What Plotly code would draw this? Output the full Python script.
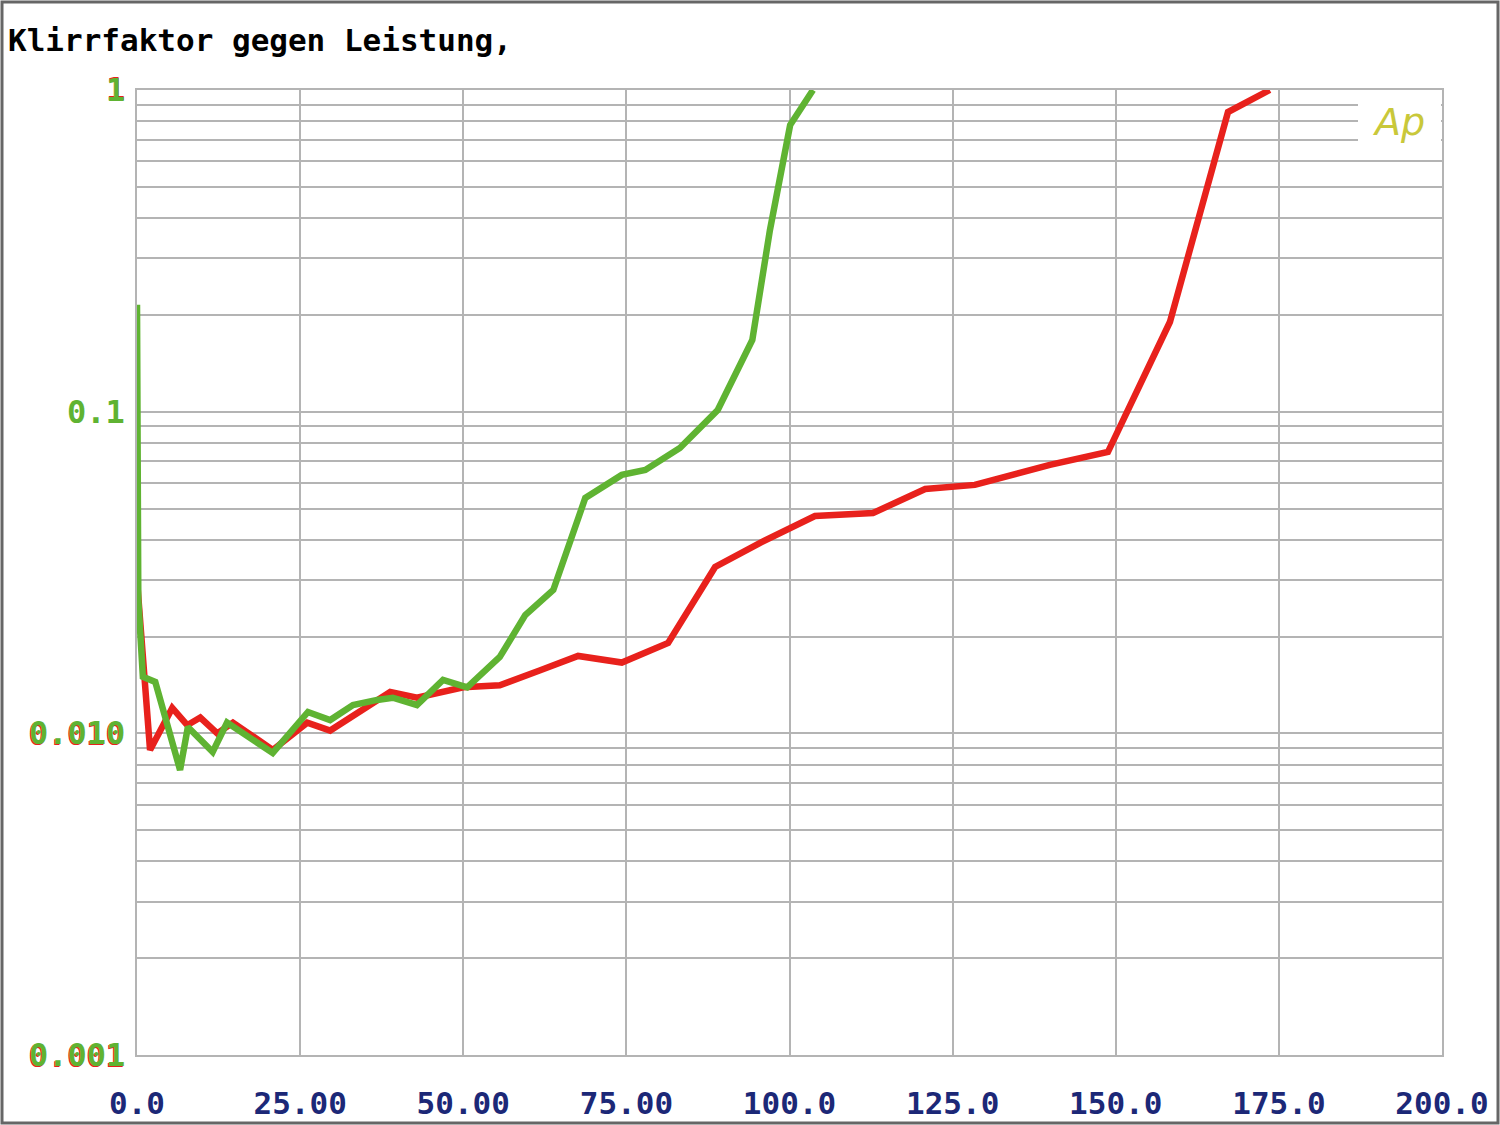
import math
import plotly.graph_objects as go

# Data: Leistung (W) vs Klirrfaktor (%)
red_x = [0, 2.0, 5.4, 7.7, 9.7, 12.3, 14.7, 20.8, 26.1, 29.6, 38.8, 42.9, 50.0, 55.6,
         61.8, 67.6, 74.3, 81.4, 88.6, 95.5, 103.9, 112.8, 120.8, 128.4, 139.9,
         148.8, 158.3, 167.2, 173.6]
red_y = [0.030, 0.00888, 0.0120, 0.0106, 0.0112, 0.0100, 0.0108, 0.00888, 0.0108,
         0.0102, 0.01345, 0.0129, 0.0139, 0.0141, 0.0157, 0.0174, 0.0166, 0.0191,
         0.0329, 0.0391, 0.0474, 0.0484, 0.0575, 0.0592, 0.0683, 0.0749, 0.190,
         0.854, 1.0]

green_x = [0, 0.2, 0.9, 2.8, 6.6, 7.8, 11.6, 13.8, 20.8, 26.2, 29.6, 33.1, 36.8, 39.2,
           42.9, 46.9, 50.6, 55.6, 59.5, 63.8, 68.7, 74.3, 77.9, 83.2, 89.0, 94.3,
           97.0, 100.1, 103.6]
green_y = [0.215, 0.026, 0.0150, 0.01445, 0.00769, 0.01047, 0.00875, 0.0108, 0.00869,
           0.01165, 0.0110, 0.01225, 0.0127, 0.0129, 0.01225, 0.01465, 0.0139, 0.01727,
           0.0233, 0.0279, 0.0539, 0.0636, 0.0659, 0.0771, 0.1012, 0.167, 0.367,
           0.778, 1.0]

x_tickvals = [0, 25, 50, 75, 100, 125, 150, 175, 200]
x_ticktext = ["0.0", "25.00", "50.00", "75.00", "100.0", "125.0", "150.0", "175.0", "200.0"]

y_decades = [0.001, 0.01, 0.1, 1]
y_decade_text = ["0.001", "0.010", "0.1", "1"]

RED = "#e8211c"
GREEN = "#5fb332"
NAVY = "#1c2877"
GRID = "#b4b4b4"

# grid at 1..9 x each decade, labels only at the decades
y_tickvals = []
for d in y_decades[:-1]:
    for m in range(1, 10):
        y_tickvals.append(m * d)
y_tickvals.append(1)

fig = go.Figure()
fig.add_trace(go.Scatter(x=red_x, y=red_y, mode="lines",
                         line=dict(color=RED, width=6.5), showlegend=False))
fig.add_trace(go.Scatter(x=green_x, y=green_y, mode="lines",
                         line=dict(color=GREEN, width=6.5), showlegend=False))

mono = "DejaVu Sans Mono"

fig.update_layout(
    width=1500, height=1125,
    margin=dict(l=137, r=58, t=90, b=70, autoexpand=False),
    paper_bgcolor="white", plot_bgcolor="white",
    title=dict(text="Klirrfaktor gegen Leistung,", x=8/1500, xref="container",
               xanchor="left", y=1-40/1125, yref="container", yanchor="middle",
               automargin=False,
               font=dict(family=mono, size=31, color="black", weight="bold")),
    xaxis=dict(range=[0, 200], tickvals=x_tickvals, ticktext=x_ticktext,
               showgrid=True, gridcolor=GRID, gridwidth=2, automargin=False,
               showline=True, linecolor=GRID, linewidth=2, mirror=True,
               zeroline=False, ticks="", ticklabelstandoff=20,
               tickfont=dict(family=mono, size=31, color=NAVY, weight="bold")),
    yaxis=dict(type="log", range=[-3, 0], tickvals=y_tickvals, showticklabels=False,
               showgrid=True, gridcolor=GRID, gridwidth=2, automargin=False,
               showline=True, linecolor=GRID, linewidth=2, mirror=True,
               zeroline=False, ticks=""),
)

# y-axis decade labels: slight red "shadow" under green text (as in the original print)
shadow_offsets = {"0.001": (-1, -1), "0.010": (-1, -1), "0.1": None, "1": (0, 1)}
for d, t in zip(y_decades, y_decade_text):
    ypos = (math.log10(d) + 3) / 3
    off = shadow_offsets[t]
    if off is not None:
        fig.add_annotation(text=t, xref="paper", yref="paper", x=0, y=ypos,
                           xanchor="right", yanchor="middle", showarrow=False,
                           xshift=-10 + off[0], yshift=off[1],
                           font=dict(family=mono, size=32, color=RED, weight="bold"))
    fig.add_annotation(text=t, xref="paper", yref="paper", x=0, y=ypos,
                       xanchor="right", yanchor="middle", showarrow=False,
                       xshift=-10,
                       font=dict(family=mono, size=32, color=GREEN, weight="bold"))

# blank area behind the "Ap" logo (grid lines are cut there)
fig.add_shape(type="rect", xref="paper", yref="paper",
              x0=(1358-137)/1305, x1=(1441-137)/1305,
              y0=(1055-152)/965, y1=(1055-96)/965,
              fillcolor="white", line=dict(width=0), layer="above")
fig.add_annotation(text="Ap", xref="paper", yref="paper",
                   x=(1398-137)/1305, y=(1055-122)/965, showarrow=False,
                   font=dict(family="DejaVu Sans", size=38, color="#c9c83a", style="italic"),
                   xanchor="center", yanchor="middle")

# outer frame of the picture
fig.add_shape(type="rect", xref="paper", yref="paper",
              x0=(2-137)/1305, x1=(1498-137)/1305,
              y0=(1055-1123)/965, y1=(1055-2)/965,
              line=dict(color="#666666", width=3), fillcolor="rgba(0,0,0,0)", layer="above")

fig.write_html("out.html", config={"displayModeBar": False},
               post_script="document.body.style.margin='0';")
